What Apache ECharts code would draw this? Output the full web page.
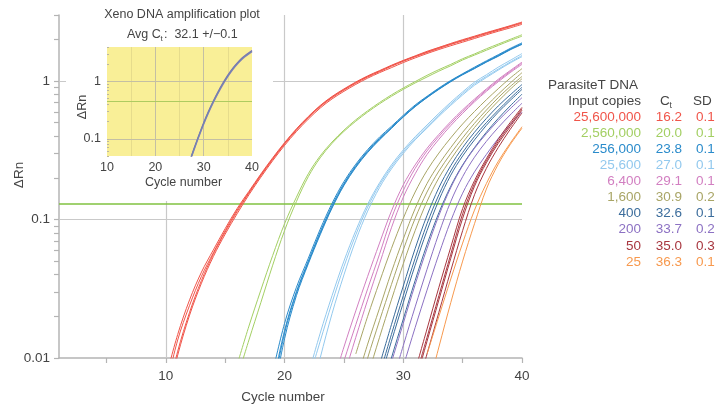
<!DOCTYPE html>
<html>
<head>
<meta charset="utf-8">
<script src="https://cdn.jsdelivr.net/npm/echarts@6/dist/echarts.min.js"></script>
<style>
  html, body { margin: 0; padding: 0; background: #ffffff; }
  #chart { width: 727px; height: 410px; }
</style>
</head>
<body>
<div id="chart"></div>
<script>
// ---- Standard curve: input copies, mean Ct and SD per dilution ----
const copies = ['25,600,000', '2,560,000', '256,000', '25,600', '6,400', '1,600', '400', '200', '50', '25'];
const ctValues = [16.2, 20.0, 23.8, 27.0, 29.1, 30.9, 32.6, 33.7, 35.0, 36.3];
const sdValues = [0.1, 0.1, 0.1, 0.1, 0.1, 0.2, 0.1, 0.2, 0.3, 0.1];
const groupColors = ['#f0554a', '#a3cf63', '#2a8bcb', '#93c9ee', '#d27fc1', '#a9a566', '#3c6d9c', '#8c71c3', '#a8363f', '#f7994e'];

// First cycle of each replicate array, per dilution
const groupStart = [10, 16, 19, 22, 24, 26, 28, 29, 31, 32];

// Replicate ΔRn readings, one value per cycle
const curves25600000 = [
  [0.0050, 0.0112, 0.0214, 0.0363, 0.0562, 0.0813, 0.114, 0.155, 0.207, 0.272, 0.351, 0.442, 0.543, 0.653, 0.759, 0.861, 0.966, 1.07, 1.17, 1.28, 1.39, 1.50, 1.61, 1.72, 1.84, 1.95, 2.07, 2.20, 2.33, 2.47, 2.62],
  [0.0072, 0.0148, 0.0263, 0.0417, 0.0603, 0.0861, 0.120, 0.160, 0.213, 0.279, 0.359, 0.452, 0.555, 0.666, 0.774, 0.877, 0.984, 1.09, 1.19, 1.30, 1.41, 1.52, 1.64, 1.75, 1.87, 1.99, 2.11, 2.24, 2.37, 2.51, 2.67],
  [0.0046, 0.0105, 0.0204, 0.0347, 0.0540, 0.0785, 0.110, 0.151, 0.202, 0.266, 0.343, 0.432, 0.531, 0.638, 0.743, 0.843, 0.946, 1.05, 1.15, 1.25, 1.36, 1.47, 1.58, 1.69, 1.80, 1.91, 2.03, 2.16, 2.29, 2.42, 2.57],
  [0.0060, 0.0135, 0.0240, 0.0389, 0.0575, 0.0832, 0.117, 0.157, 0.210, 0.275, 0.355, 0.447, 0.549, 0.660, 0.767, 0.869, 0.975, 1.08, 1.18, 1.29, 1.40, 1.51, 1.62, 1.74, 1.85, 1.97, 2.09, 2.22, 2.35, 2.49, 2.64]
];
const curves2560000 = [
  [0.0089, 0.0170, 0.0309, 0.0550, 0.0933, 0.145, 0.214, 0.288, 0.363, 0.442, 0.525, 0.610, 0.700, 0.794, 0.891, 0.991, 1.10, 1.21, 1.32, 1.45, 1.57, 1.71, 1.85, 2.00, 2.16],
  [0.0071, 0.0135, 0.0251, 0.0468, 0.0832, 0.135, 0.204, 0.279, 0.355, 0.433, 0.513, 0.597, 0.685, 0.776, 0.871, 0.969, 1.07, 1.18, 1.29, 1.42, 1.54, 1.67, 1.81, 1.96, 2.11]
];
const curves256000 = [
  [0.0063, 0.0158, 0.0302, 0.0501, 0.0813, 0.126, 0.182, 0.245, 0.313, 0.385, 0.462, 0.556, 0.661, 0.767, 0.881, 1.00, 1.12, 1.24, 1.38, 1.53, 1.70, 1.86],
  [0.0079, 0.0178, 0.0324, 0.0525, 0.0851, 0.131, 0.188, 0.251, 0.320, 0.394, 0.471, 0.566, 0.672, 0.776, 0.891, 1.01, 1.13, 1.26, 1.40, 1.55, 1.72, 1.89],
  [0.0050, 0.0138, 0.0282, 0.0479, 0.0776, 0.121, 0.176, 0.238, 0.305, 0.376, 0.455, 0.550, 0.653, 0.759, 0.871, 0.989, 1.11, 1.23, 1.37, 1.51, 1.68, 1.84],
  [0.0058, 0.0151, 0.0295, 0.0490, 0.0794, 0.123, 0.179, 0.241, 0.309, 0.380, 0.458, 0.553, 0.657, 0.763, 0.876, 0.995, 1.12, 1.24, 1.38, 1.52, 1.69, 1.85]
];
const curves25600 = [
  [0.0068, 0.0132, 0.0251, 0.0457, 0.0776, 0.123, 0.178, 0.240, 0.309, 0.385, 0.468, 0.569, 0.684, 0.813, 0.955, 1.08, 1.22, 1.37, 1.53],
  [0.0076, 0.0151, 0.0282, 0.0501, 0.0832, 0.129, 0.184, 0.248, 0.318, 0.396, 0.482, 0.585, 0.703, 0.835, 0.982, 1.11, 1.26, 1.41, 1.58],
  [0.0045, 0.0100, 0.0209, 0.0398, 0.0708, 0.115, 0.170, 0.232, 0.300, 0.376, 0.457, 0.556, 0.668, 0.794, 0.933, 1.06, 1.20, 1.35, 1.50]
];
const curves6400 = [
  [0.0050, 0.0095, 0.0174, 0.0316, 0.0562, 0.102, 0.162, 0.234, 0.313, 0.398, 0.495, 0.603, 0.724, 0.861, 1.01, 1.17, 1.35],
  [0.0063, 0.0120, 0.0219, 0.0389, 0.0676, 0.115, 0.178, 0.248, 0.327, 0.412, 0.510, 0.620, 0.741, 0.878, 1.03, 1.19, 1.37],
  [0.0039, 0.0074, 0.0141, 0.0263, 0.0479, 0.0871, 0.145, 0.214, 0.295, 0.380, 0.477, 0.585, 0.708, 0.843, 0.989, 1.15, 1.32]
];
const curves1600 = [
  [0.0066, 0.0126, 0.0229, 0.0417, 0.0724, 0.120, 0.182, 0.251, 0.331, 0.427, 0.537, 0.661, 0.804, 0.966, 1.15],
  [0.0107, 0.0200, 0.0355, 0.0617, 0.102, 0.158, 0.226, 0.302, 0.389, 0.490, 0.603, 0.733, 0.881, 1.05, 1.23],
  [0.0050, 0.0100, 0.0186, 0.0339, 0.0603, 0.102, 0.158, 0.224, 0.299, 0.389, 0.495, 0.617, 0.759, 0.912, 1.08],
  [0.0039, 0.0074, 0.0141, 0.0263, 0.0479, 0.0832, 0.135, 0.200, 0.272, 0.359, 0.462, 0.582, 0.716, 0.871, 1.04]
];
const curves400 = [
  [0.0068, 0.0132, 0.0251, 0.0468, 0.0832, 0.138, 0.209, 0.288, 0.376, 0.479, 0.596, 0.724, 0.871],
  [0.0089, 0.0174, 0.0331, 0.0617, 0.107, 0.170, 0.245, 0.331, 0.427, 0.537, 0.661, 0.794, 0.944],
  [0.0050, 0.0100, 0.0191, 0.0363, 0.0661, 0.112, 0.174, 0.248, 0.331, 0.427, 0.537, 0.661, 0.804],
  [0.0076, 0.0148, 0.0282, 0.0525, 0.0933, 0.151, 0.224, 0.305, 0.398, 0.501, 0.617, 0.750, 0.902]
];
const curves200 = [
  [0.0063, 0.0123, 0.0234, 0.0437, 0.0794, 0.135, 0.204, 0.282, 0.367, 0.462, 0.569, 0.692],
  [0.0093, 0.0178, 0.0339, 0.0617, 0.107, 0.170, 0.245, 0.327, 0.417, 0.519, 0.631, 0.759],
  [0.0045, 0.0087, 0.0166, 0.0309, 0.0562, 0.0977, 0.155, 0.221, 0.295, 0.385, 0.484, 0.596]
];
const curves50 = [
  [0.0066, 0.0132, 0.0263, 0.0525, 0.102, 0.174, 0.257, 0.355, 0.468, 0.617],
  [0.0081, 0.0162, 0.0324, 0.0631, 0.120, 0.191, 0.275, 0.380, 0.501, 0.646],
  [0.0054, 0.0107, 0.0214, 0.0427, 0.0832, 0.151, 0.234, 0.331, 0.447, 0.589],
  [0.0071, 0.0141, 0.0282, 0.0562, 0.110, 0.182, 0.266, 0.367, 0.484, 0.631]
];
const curves25 = [
  [0.0107, 0.0200, 0.0372, 0.0676, 0.117, 0.182, 0.263, 0.355, 0.468],
  [0.0056, 0.0120, 0.0251, 0.0501, 0.0933, 0.166, 0.251, 0.347, 0.457]
];
const mainThreshold = 0.133;

// ---- Xeno internal control ----
const xenoStart = 27;
const xenoCurves = [
  [0.0380, 0.0661, 0.112, 0.186, 0.295, 0.447, 0.653, 0.923, 1.26, 1.66, 2.09, 2.54, 2.95, 3.39],
  [0.0363, 0.0631, 0.107, 0.178, 0.282, 0.427, 0.625, 0.883, 1.21, 1.60, 2.02, 2.46, 2.87, 3.31],
  [0.0389, 0.0676, 0.115, 0.191, 0.302, 0.457, 0.668, 0.944, 1.29, 1.70, 2.14, 2.60, 3.02, 3.47],
  [0.0372, 0.0646, 0.110, 0.182, 0.288, 0.437, 0.638, 0.902, 1.23, 1.63, 2.05, 2.50, 2.91, 3.35]
];
const xenoColors = ['#a19fae', '#c18fb6', '#7d70b3', '#7089b0'];
const xenoThreshold = 0.457;
const xenoAvgCt = 32.1;
const xenoSd = 0.1;

// ---- Axis tick positions ----
const xTicks = [5, 10, 15, 20, 25, 30, 35, 40];
const xLabels = [10, 20, 30, 40];
const xGrid = [10, 20, 30];
const yLabels = [0.01, 0.1, 1];
const yGrid = [0.1, 1];
const yTicks = [0.01, 0.02, 0.03, 0.04, 0.05, 0.06, 0.07, 0.08, 0.09,
  0.1, 0.2, 0.3, 0.4, 0.5, 0.6, 0.7, 0.8, 0.9, 1, 2, 3];
const insetXLabels = [10, 20, 30, 40];
const insetXMajor = [20, 30];
const insetXMinor = [15, 25, 35];
const insetYLabels = [0.1, 1];
const insetYTicks = [0.05, 0.06, 0.07, 0.08, 0.09, 0.1, 0.2, 0.3, 0.4, 0.5, 0.6, 0.7, 0.8, 0.9, 1, 2, 3, 4];

const FONT = "'Liberation Sans', Arial, Helvetica, sans-serif";
const TEXT = '#444444';
const AXIS = '#b4b4b4';
const GRID = '#c9c9c9';

const chart = echarts.init(document.getElementById('chart'), null, { renderer: 'canvas' });

const groups = [curves25600000, curves2560000, curves256000, curves25600, curves6400,
  curves1600, curves400, curves200, curves50, curves25];

const series = [];
groups.forEach((reps, g) => {
  reps.forEach((vals) => {
    series.push({
      type: 'line', xAxisIndex: 0, yAxisIndex: 0, z: 2,
      data: vals.map((v, i) => [groupStart[g] + i, v]),
      symbol: 'none', showSymbol: false, silent: true, clip: true,
      smooth: 0.35,
      lineStyle: { color: groupColors[g], width: 1 }
    });
  });
});

// grid lines and threshold for the main plot
series[0].markLine = {
  silent: true, symbol: ['none', 'none'], animation: false, z: 1,
  label: { show: false },
  data: [
    ...xGrid.map(v => ({ xAxis: v, lineStyle: { color: GRID, width: 1.2, type: 'solid' } })),
    ...yGrid.map(v => ({ yAxis: v, lineStyle: { color: GRID, width: 1.2, type: 'solid' } })),
    { yAxis: mainThreshold, lineStyle: { color: '#80c241', width: 1.6, type: 'solid' } }
  ]
};

xenoCurves.forEach((vals, r) => {
  series.push({
    type: 'line', xAxisIndex: 1, yAxisIndex: 1, z: 8,
    data: vals.map((v, i) => [xenoStart + i, v]),
    symbol: 'none', showSymbol: false, silent: true, clip: true,
    smooth: 0.35,
    lineStyle: { color: xenoColors[r], width: 1.2 }
  });
});
series[series.length - xenoCurves.length].markLine = {
  silent: true, symbol: ['none', 'none'], animation: false, z: 7,
  label: { show: false },
  data: [
    ...insetXMinor.map(v => ({ xAxis: v, lineStyle: { color: '#e6dc8c', width: 1, type: 'solid' } })),
    ...insetXMajor.map(v => ({ xAxis: v, lineStyle: { color: '#c4bfa4', width: 1, type: 'solid' } })),
    ...insetYLabels.map(v => ({ yAxis: v, lineStyle: { color: '#c4bfa4', width: 1, type: 'solid' } })),
    { yAxis: xenoThreshold, lineStyle: { color: '#aecb60', width: 1, type: 'solid' } }
  ]
};

const fmt = v => String(+(+v).toPrecision(3));

// legend table on the right
const legendEls = [
  { type: 'text', x: 548, y: 85, z: 20, style: { text: 'ParasiteT DNA', font: '13.5px ' + FONT, fill: TEXT, align: 'left', verticalAlign: 'middle' } },
  { type: 'text', x: 641, y: 101, z: 20, style: { text: 'Input copies', font: '13.5px ' + FONT, fill: TEXT, align: 'right', verticalAlign: 'middle' } },
  { type: 'text', x: 660, y: 101, z: 20, style: { text: 'C', font: '13.5px ' + FONT, fill: TEXT, align: 'left', verticalAlign: 'middle' } },
  { type: 'text', x: 669.5, y: 105.5, z: 20, style: { text: 't', font: '8.5px ' + FONT, fill: TEXT, align: 'left', verticalAlign: 'middle' } },
  { type: 'text', x: 693, y: 101, z: 20, style: { text: 'SD', font: '13.5px ' + FONT, fill: TEXT, align: 'left', verticalAlign: 'middle' } }
];
copies.forEach((c, i) => {
  const y = 117 + i * 16.1;
  legendEls.push(
    { type: 'text', x: 641, y, z: 20, style: { text: c, font: '13.5px ' + FONT, fill: groupColors[i], align: 'right', verticalAlign: 'middle' } },
    { type: 'text', x: 682, y, z: 20, style: { text: ctValues[i].toFixed(1), font: '13.5px ' + FONT, fill: groupColors[i], align: 'right', verticalAlign: 'middle' } },
    { type: 'text', x: 696, y, z: 20, style: { text: sdValues[i].toFixed(1), font: '13.5px ' + FONT, fill: groupColors[i], align: 'left', verticalAlign: 'middle' } }
  );
});

const option = {
  animation: false,
  backgroundColor: '#ffffff',
  textStyle: { fontFamily: FONT },
  grid: [
    { left: 59, top: 15, width: 463, height: 343, containLabel: false, outerBoundsMode: 'none', show: false },
    { left: 107, top: 47, width: 145, height: 109, containLabel: false, outerBoundsMode: 'none', show: true,
      backgroundColor: '#f9ef97', borderWidth: 0, z: 6 }
  ],
  xAxis: [
    {
      type: 'value', gridIndex: 0, min: 1, max: 40,
      axisLine: { show: true, lineStyle: { color: AXIS, width: 1.5 } },
      axisTick: { show: true, customValues: xTicks, length: 5, inside: false, lineStyle: { color: AXIS, width: 1.2 } },
      axisLabel: { show: true, customValues: xLabels, color: TEXT, fontSize: 13.5, fontFamily: FONT, margin: 11 },
      splitLine: { show: false }, minorTick: { show: false }
    },
    {
      type: 'value', gridIndex: 1, min: 10, max: 40, z: 7,
      axisLine: { show: false },
      axisTick: { show: false },
      axisLabel: { show: true, customValues: insetXLabels, color: TEXT, fontSize: 12.5, fontFamily: FONT, margin: 5 },
      splitLine: { show: false }
    }
  ],
  yAxis: [
    {
      type: 'log', logBase: 10, gridIndex: 0, min: 0.01, max: 3,
      axisLine: { show: true, lineStyle: { color: AXIS, width: 1.5 } },
      axisTick: { show: true, customValues: yTicks, length: 5, inside: false, lineStyle: { color: AXIS, width: 1.2 } },
      axisLabel: { show: true, customValues: yLabels, formatter: fmt, color: TEXT, fontSize: 13.5, fontFamily: FONT, margin: 9 },
      splitLine: { show: false }, minorTick: { show: false }
    },
    {
      type: 'log', logBase: 10, gridIndex: 1, min: 0.05, max: 4, z: 7,
      axisLine: { show: false },
      axisTick: { show: true, customValues: insetYTicks, length: 2, inside: true, lineStyle: { color: '#bcb7a0', width: 1 } },
      axisLabel: { show: true, customValues: insetYLabels, formatter: fmt, color: TEXT, fontSize: 12.5, fontFamily: FONT, margin: 6 },
      splitLine: { show: false }
    }
  ],
  graphic: {
    elements: [
      // white panel behind the inset plot
      { type: 'rect', z: 5, silent: true, shape: { x: 66, y: 0, width: 207, height: 150 }, style: { fill: '#ffffff' } },
      { type: 'rect', z: 5, silent: true, shape: { x: 66, y: 150, width: 172, height: 51 }, style: { fill: '#ffffff' } },
      // inset titles
      { type: 'text', x: 182, y: 15, z: 20, style: { text: 'Xeno DNA amplification plot', font: '12.5px ' + FONT, fill: TEXT, align: 'center', verticalAlign: 'middle' } },
      { type: 'text', x: 127, y: 35, z: 20, style: { text: 'Avg C', font: '12.5px ' + FONT, fill: TEXT, align: 'left', verticalAlign: 'middle' } },
      { type: 'text', x: 160.5, y: 39, z: 20, style: { text: 't', font: '8px ' + FONT, fill: TEXT, align: 'left', verticalAlign: 'middle' } },
      { type: 'text', x: 164, y: 35, z: 20, style: { text: ':  ' + xenoAvgCt.toFixed(1) + ' +/\u2212' + xenoSd.toFixed(1), font: '12.5px ' + FONT, fill: TEXT, align: 'left', verticalAlign: 'middle' } },
      { type: 'text', x: 83, y: 107, z: 20, rotation: Math.PI / 2, style: { text: '\u0394Rn', font: '12.5px ' + FONT, fill: TEXT, align: 'center', verticalAlign: 'middle' } },
      { type: 'text', x: 183.5, y: 183, z: 20, style: { text: 'Cycle number', font: '12.5px ' + FONT, fill: TEXT, align: 'center', verticalAlign: 'middle' } },
      // main axis titles
      { type: 'text', x: 19, y: 175, z: 20, rotation: Math.PI / 2, style: { text: '\u0394Rn', font: '13.5px ' + FONT, fill: TEXT, align: 'center', verticalAlign: 'middle' } },
      { type: 'text', x: 283, y: 397, z: 20, style: { text: 'Cycle number', font: '13.5px ' + FONT, fill: TEXT, align: 'center', verticalAlign: 'middle' } },
      ...legendEls
    ]
  },
  series
};

chart.setOption(option);
</script>
</body>
</html>
